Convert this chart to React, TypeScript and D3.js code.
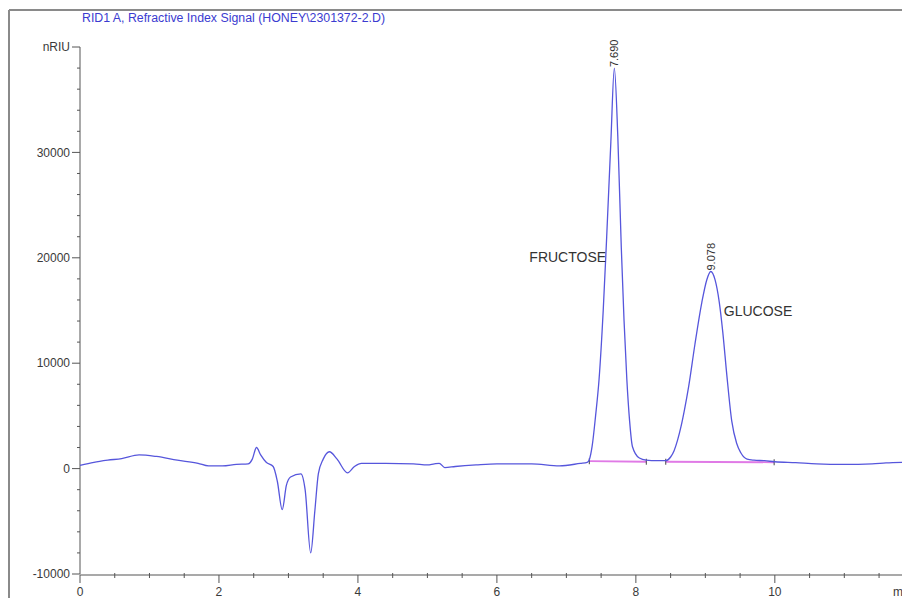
import * as d3 from 'd3'

// retention time (min) and signal (nRIU)
const times = [
  0, 0.2, 0.4, 0.6, 0.85, 1.1, 1.4, 1.7, 1.85, 2.05, 2.25, 2.42, 2.48, 2.54, 2.6, 2.68, 2.78, 2.84, 2.91, 2.97,
  3.03, 3.18, 3.24, 3.32, 3.38, 3.43, 3.5, 3.59, 3.7, 3.85, 3.95, 4.05, 4.4, 4.8, 5.0, 5.1, 5.17, 5.25, 5.4, 5.7,
  6.0, 6.5, 6.9, 7.2, 7.3, 7.33, 7.37, 7.42, 7.47, 7.53, 7.58, 7.64, 7.69, 7.74, 7.79, 7.83, 7.87, 7.91, 7.95, 8.05,
  8.15, 8.3, 8.43, 8.5, 8.55, 8.6, 8.65, 8.7, 8.76, 8.85, 8.95, 9.02, 9.078, 9.14, 9.2, 9.25, 9.31, 9.38, 9.45, 9.51,
  9.6, 9.7, 9.85, 10.0, 10.3, 10.6, 11.0, 11.4, 11.6, 11.83,
]
const signal = [
  300, 600, 800, 950, 1300, 1150, 800, 500, 250, 250, 400, 450, 900, 2000, 1300, 600, 200, -1200, -3900, -1600,
  -800, -500, -2000, -8000, -4000, -500, 900, 1600, 900, -400, 200, 500, 500, 450, 350, 450, 500, 100, 200, 350,
  450, 450, 250, 500, 600, 850, 2100, 5000, 8450, 15000, 22000, 31000, 38000, 31500, 21000, 14000, 8450, 4500, 2100, 1000,
  800, 750, 750, 1100, 1700, 2700, 4000, 5600, 7800, 11800, 15800, 17900, 18700, 17900, 15800, 13000, 8800, 4500, 2400, 1500,
  900, 800, 750, 650, 560, 450, 400, 450, 550, 600,
]

const peakNames = ['FRUCTOSE', 'GLUCOSE']
const peakTimes = [7.69, 9.078]
const peakHeights = [38000, 18700]
const peakLabels = ['7.690', '9.078']

// integration baselines: [start, end] time and value
const baseStart = [7.33, 8.43]
const baseEnd = [8.15, 9.99]
const baseStartVal = [700, 650]
const baseEndVal = [650, 600]

const yTicks = [-10000, 0, 10000, 20000, 30000, 40000]
const yTickLabels = ['-10000', '0', '10000', '20000', '30000', 'nRIU']
const xTicks = [0, 2, 4, 6, 8, 10]

const W = 902
const H = 598

export default function App() {
  const x = d3.scaleLinear().domain([0, 11.83]).range([80, 902])
  const y = d3.scaleLinear().domain([-10000, 40000]).range([574, 47])

  const pts: [number, number][] = times.map((t, i) => [t, signal[i]])
  const line = d3.line<[number, number]>()
    .x(d => x(d[0]))
    .y(d => y(d[1]))
    .curve(d3.curveMonotoneX)

  const minorY = d3.range(-10000, 40001, 2000).filter(v => v % 10000 !== 0)
  const minorX = d3.range(0, 11.9, 0.5).filter(v => v % 2 !== 0)

  const font = 'Arial, "Liberation Sans", sans-serif'

  return (
    <div style={{ position: 'absolute', left: 0, top: 0 }}>
      <svg width={W} height={H} style={{ display: 'block', background: '#fff' }}>
        {/* frame */}
        <line x1={9} y1={10} x2={W} y2={10} stroke='#8a8a8a' strokeWidth={2} />
        <line x1={9} y1={10} x2={9} y2={H} stroke='#8a8a8a' strokeWidth={2} />

        <text x={82} y={22} fontSize={12} textLength={303} lengthAdjust='spacingAndGlyphs' fill='#3b3bd0' fontFamily={font}>
          RID1 A, Refractive Index Signal (HONEY\2301372-2.D)
        </text>

        {/* y axis */}
        <line x1={80} y1={y(40000)} x2={80} y2={y(-10000)} stroke='#555' strokeWidth={1} />
        {minorY.map(v => (
          <line key={'my' + v} x1={77} x2={80} y1={y(v)} y2={y(v)} stroke='#555' />
        ))}
        {yTicks.map((v, i) => (
          <g key={'y' + v}>
            <line x1={72} x2={80} y1={y(v)} y2={y(v)} stroke='#555' />
            <text x={70} y={y(v)} dy='0.35em' textAnchor='end' fontSize={12} fill='#3a3a3a' fontFamily={font}>
              {yTickLabels[i]}
            </text>
          </g>
        ))}

        {/* x axis */}
        <line x1={80} y1={575} x2={W} y2={575} stroke='#555' strokeWidth={1.2} />
        {minorX.map(v => (
          <line key={'mx' + v} x1={x(v)} x2={x(v)} y1={573} y2={578} stroke='#555' />
        ))}
        {xTicks.map(v => (
          <g key={'x' + v}>
            <line x1={x(v)} x2={x(v)} y1={575} y2={583} stroke='#555' />
            <text x={x(v)} y={596} textAnchor='middle' fontSize={12} fill='#3a3a3a' fontFamily={font}>
              {v}
            </text>
          </g>
        ))}
        <text x={893} y={596} fontSize={12} fill='#3a3a3a' fontFamily={font}>min</text>

        {/* integration baselines */}
        {baseStart.map((t, i) => (
          <g key={'b' + i}>
            <line x1={x(t)} y1={y(baseStartVal[i])} x2={x(baseEnd[i])} y2={y(baseEndVal[i])}
              stroke='#e07ae6' strokeWidth={1.8} />
            <line x1={x(t)} x2={x(t)} y1={y(baseStartVal[i]) - 3} y2={y(baseStartVal[i]) + 3} stroke='#444' />
            <line x1={x(baseEnd[i])} x2={x(baseEnd[i])} y1={y(baseEndVal[i]) - 3} y2={y(baseEndVal[i]) + 3} stroke='#444' />
          </g>
        ))}

        {/* trace */}
        <path d={line(pts) ?? ''} fill='none' stroke='#5656dc' strokeWidth={1.3} />

        {/* peak labels */}
        {peakTimes.map((t, i) => (
          <text key={'pl' + i} transform={`translate(${x(t) + 4},${y(peakHeights[i]) - 1}) rotate(-90)`}
            fontSize={11} fill='#333' fontFamily={font}>
            {peakLabels[i]}
          </text>
        ))}
        <text x={x(peakTimes[0]) - 85} y={262} fontSize={14} fill='#333' fontFamily={font}>{peakNames[0]}</text>
        <text x={x(peakTimes[1]) + 13} y={316} fontSize={14} fill='#333' fontFamily={font}>{peakNames[1]}</text>
      </svg>
    </div>
  )
}
